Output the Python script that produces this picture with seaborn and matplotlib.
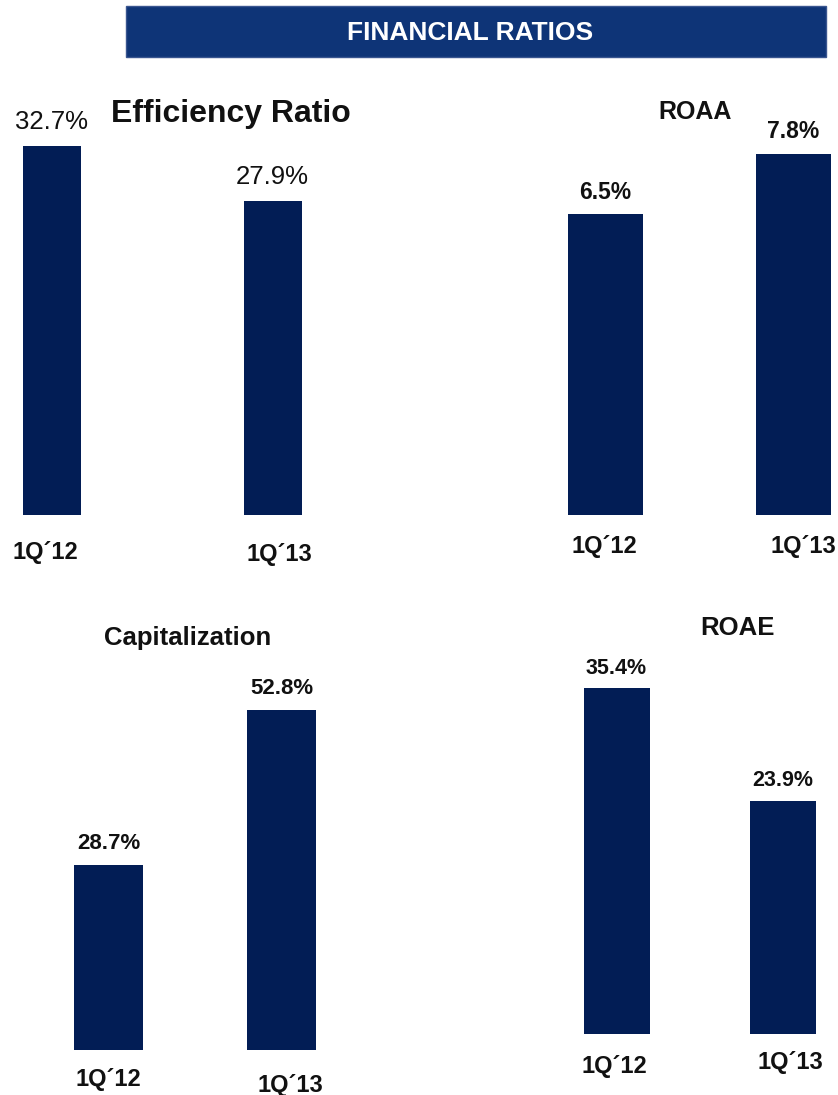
import matplotlib
matplotlib.use("Agg")
import matplotlib.pyplot as plt
from matplotlib.patches import Rectangle
import seaborn as sns
import pandas as pd

# ---------------- data ----------------
categories = ["1Q\u00b412", "1Q\u00b413"]
efficiency = [32.7, 27.9]
roaa = [6.5, 7.8]
capitalization = [28.7, 52.8]
roae = [35.4, 23.9]

header_title = "FINANCIAL RATIOS"
panel_titles = ["Efficiency Ratio", "ROAA", "Capitalization", "ROAE"]
panel_values = [efficiency, roaa, capitalization, roae]

# ---------------- style / layout ----------------
sns.set_theme(style="white")
plt.rcParams["font.family"] = ["Liberation Sans", "DejaVu Sans"]

W, H = 838, 1095
BAR = "#021d55"
HEADER = "#0e3477"

fig = plt.figure(figsize=(W / 100, H / 100), dpi=100)


def fx(x):
    return x / W


def fy(y):
    return 1 - y / H


# per panel layout in pixels
layouts = [
    dict(c=(52.0, 272.5), w=58, bottom=515, scale=11.27, lab_off=17, lab_size=18.5, lab_weight="normal",
         tick_dx=(-7, 7), tick_dy=(44, 46), title_xy=(231, 122), title_size=23),
    dict(c=(605.5, 793.0), w=75, bottom=515, scale=46.3, lab_off=15.5, lab_size=16.5, lab_weight="bold",
         tick_dx=(-1.5, 10), tick_dy=(38, 38), title_xy=(695, 119), title_size=18),
    dict(c=(108.5, 281.5), w=69, bottom=1050, scale=6.43, lab_off=16, lab_size=16, lab_weight="bold",
         tick_dx=(0, 9), tick_dy=(36, 42), title_xy=(188, 645), title_size=18.5),
    dict(c=(616.5, 783.0), w=66, bottom=1034, scale=9.76, lab_off=14.5, lab_size=15.5, lab_weight="bold",
         tick_dx=(-2, 7.5), tick_dy=(39, 35), title_xy=(737.5, 635), title_size=18.5),
]

PT = 72 / 100  # points per pixel

for title, vals, L in zip(panel_titles, panel_values, layouts):
    c1, c2 = L["c"]
    d = c2 - c1
    x0, x1 = -0.25, 1.25
    left = c1 + x0 * d
    right = c1 + x1 * d
    axh = 400  # axes height in px
    ax = fig.add_axes([fx(left), fy(L["bottom"]), (right - left) / W, axh / H])
    df = pd.DataFrame({"period": categories, "value": vals})
    sns.barplot(data=df, x="period", y="value", color=BAR, saturation=1,
                width=L["w"] / d, linewidth=0, ax=ax)
    ax.set_xlim(x0, x1)
    ax.set_ylim(0, axh / L["scale"])
    ax.axis("off")
    for i, v in enumerate(vals):
        ax.annotate(f"{v:.1f}%", xy=(i, v), xytext=(0, L["lab_off"] * PT),
                    textcoords="offset points", ha="center", va="baseline",
                    fontsize=L["lab_size"], fontweight=L["lab_weight"], color="#111111")
        ax.annotate(categories[i], xy=(i, 0), xycoords=("data", "axes fraction"),
                    xytext=(L["tick_dx"][i] * PT, -L["tick_dy"][i] * PT),
                    textcoords="offset points", ha="center", va="baseline",
                    fontsize=17, fontweight="bold", color="#111111",
                    annotation_clip=False)
    tx, ty = L["title_xy"]
    fig.text(fx(tx), fy(ty), title, ha="center", va="baseline",
             fontsize=L["title_size"], fontweight="bold", color="#111111")

# header banner
fig.patches.append(Rectangle((fx(126), fy(57)), (826 - 126) / W, (57 - 6) / H,
                             transform=fig.transFigure, facecolor=HEADER,
                             edgecolor="#3a5690", linewidth=1))
fig.text(fx(470), fy(33), header_title, ha="center", va="center",
         fontsize=19, fontweight="bold", color="white")

fig.savefig("out.png", dpi=100)
